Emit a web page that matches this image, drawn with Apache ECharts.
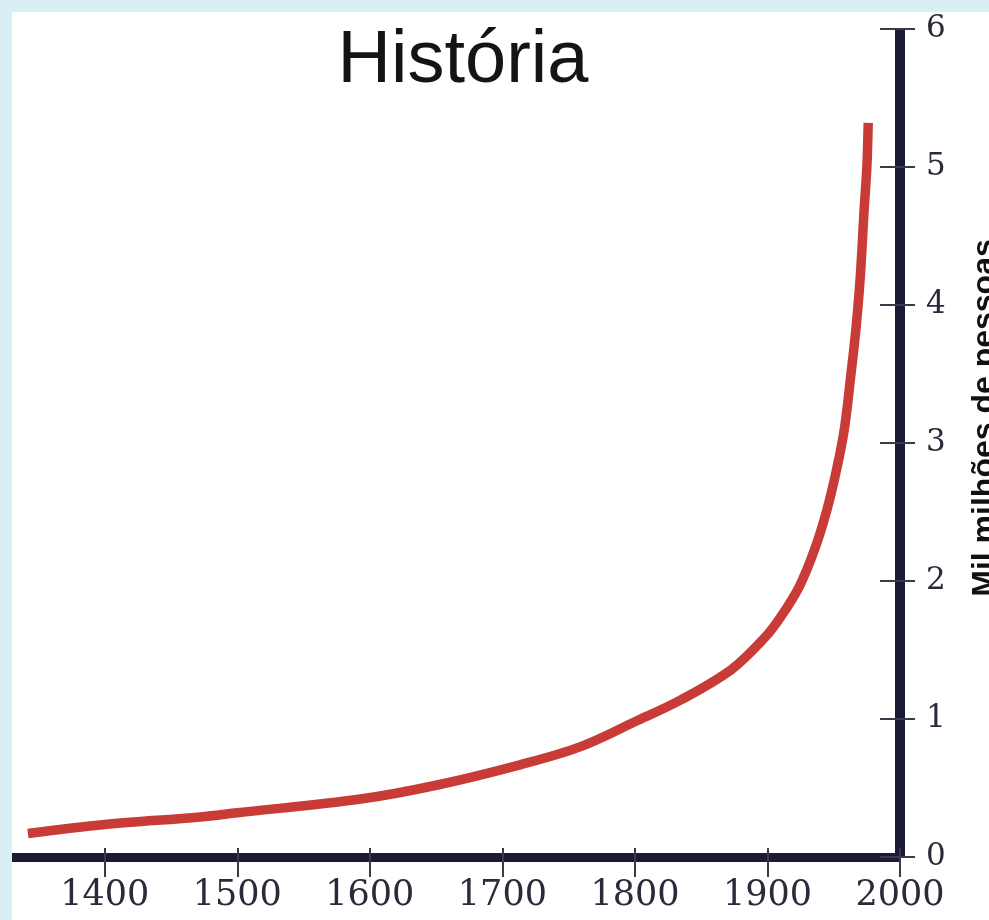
<!DOCTYPE html>
<html>
<head>
<meta charset="utf-8">
<script src="https://cdn.jsdelivr.net/npm/echarts@6/dist/echarts.min.js"></script>
<style>
html,body{margin:0;padding:0;background:#daeef5;}
#chart{width:989px;height:920px;}
</style>
</head>
<body>
<div id="chart"></div>
<script>
var titleText = 'História';
var yName = 'Mil milhões de pessoas';
var xTicks = [1400, 1500, 1600, 1700, 1800, 1900, 2000];
var years = [1342, 1400, 1472, 1500, 1593, 1650, 1714, 1759, 1800, 1835, 1873, 1898, 1910, 1924, 1936, 1945, 1952, 1958, 1963, 1967, 1970, 1973, 1975, 1976];
var population = [0.17, 0.235, 0.29, 0.32, 0.42, 0.52, 0.67, 0.80, 0.98, 1.14, 1.36, 1.59, 1.74, 1.96, 2.24, 2.52, 2.8, 3.1, 3.5, 3.85, 4.2, 4.7, 5.0, 5.32];

var data = years.map(function (y, i) { return [y, population[i]]; });

var chart = echarts.init(document.getElementById('chart'));
var axisColor = '#1b1b38';
var tickColor = '#3a3a48';
var serif = 'DejaVu Serif';

chart.setOption({
  backgroundColor: '#daeef5',
  animation: false,
  title: {
    text: titleText,
    left: 458,
    top: 20,
    textAlign: 'center',
    textStyle: { fontFamily: 'Liberation Sans', fontSize: 74, fontWeight: 'normal', color: '#141414' }
  },
  graphic: [
    { type: 'rect', z: -10, silent: true, shape: { x: 12, y: 12, width: 977, height: 908 }, style: { fill: '#ffffff' } },
    { type: 'text', silent: true, x: 985, y: 418, rotation: Math.PI / 2,
      style: { text: yName, fontFamily: 'Liberation Sans', fontWeight: 'bold', fontSize: 32, fill: '#111111', align: 'center', verticalAlign: 'middle' } }
  ],
  grid: { left: 12, right: 89, top: 29, bottom: 63, containLabel: false },
  xAxis: [
    {
      type: 'value', min: 1330, max: 2000, position: 'bottom',
      splitLine: { show: false },
      axisLine: { show: true, symbol: 'none', lineStyle: { color: axisColor, width: 9, cap: 'butt' } },
      axisTick: { show: true, customValues: xTicks, length: 20, lineStyle: { color: tickColor, width: 2 } },
      axisLabel: { customValues: xTicks, margin: 21, fontFamily: serif, fontSize: 35, color: '#2a2a3a', formatter: function (v) { return String(v); } }
    },
    {
      type: 'value', min: 1330, max: 2000, position: 'bottom',
      splitLine: { show: false },
      axisLine: { show: false },
      axisTick: { show: true, inside: true, customValues: xTicks, length: 9, lineStyle: { color: tickColor, width: 2 } },
      axisLabel: { show: false }
    }
  ],
  yAxis: [
    {
      type: 'value', min: 0, max: 6, interval: 1, position: 'right',
      splitLine: { show: false },
      axisLine: { show: true, symbol: 'none', lineStyle: { color: axisColor, width: 10, cap: 'butt' } },
      axisTick: { show: true, length: 15, lineStyle: { color: tickColor, width: 2 } },
      axisLabel: { margin: 26, fontFamily: serif, fontSize: 31, color: '#2a2a3a', formatter: function (v) { return String(v); } }
    },
    {
      type: 'value', min: 0, max: 6, interval: 1, position: 'right',
      splitLine: { show: false },
      axisLine: { show: false },
      axisTick: { show: true, inside: true, length: 20, lineStyle: { color: tickColor, width: 2 } },
      axisLabel: { show: false }
    }
  ],
  series: [{
    type: 'line',
    xAxisIndex: 0,
    yAxisIndex: 0,
    data: data,
    smooth: 0.35,
    symbol: 'none',
    z: 5,
    lineStyle: { color: '#c93b36', width: 9.5, cap: 'butt' }
  }]
});
</script>
</body>
</html>
